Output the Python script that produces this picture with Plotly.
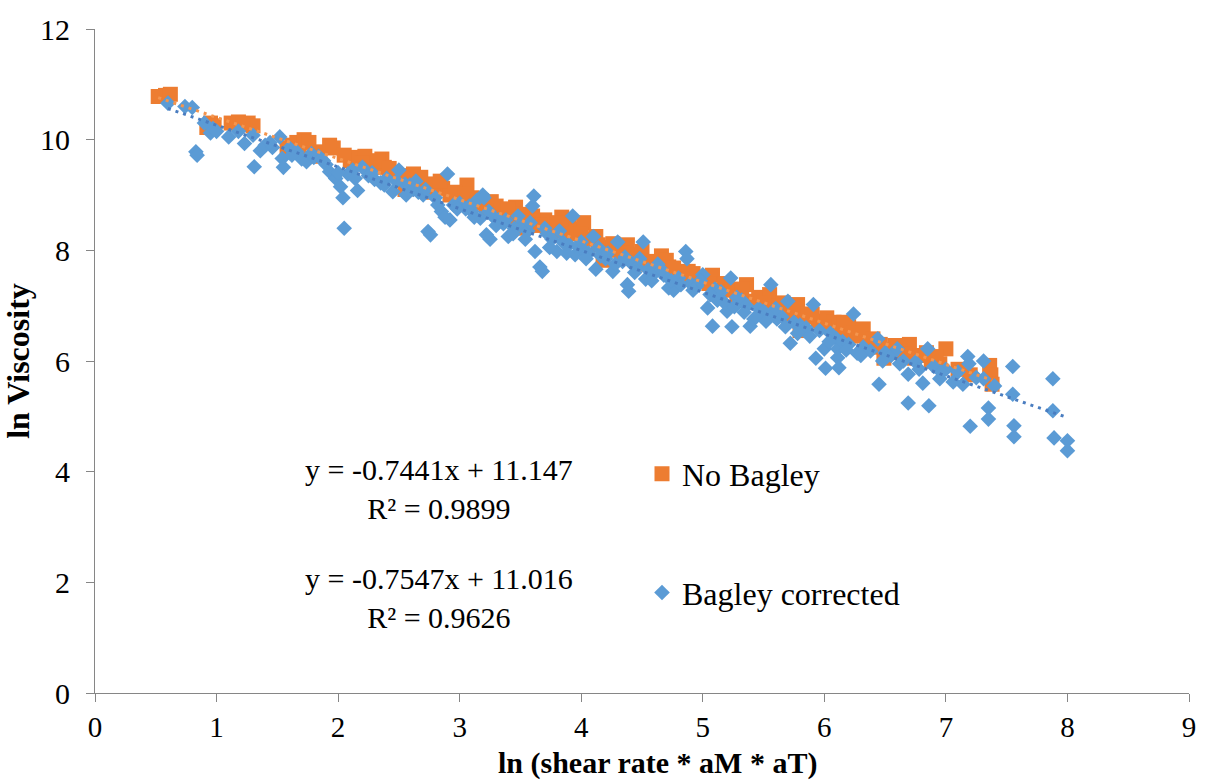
import plotly.graph_objects as go

# ---- Data: No Bagley (orange squares) ----
nobagley_x = [0.52, 0.58, 0.62, 0.92, 0.95, 1.12, 1.18, 1.26, 1.30, 1.62, 1.66, 1.68, 1.72, 1.82, 1.85,
              1.93, 1.96, 2.10, 2.16, 2.22, 2.26, 2.30, 2.36, 2.38, 2.45, 2.50, 2.55, 2.62, 2.66, 2.70,
              2.74, 2.80, 2.86, 2.92, 3.00, 3.06, 3.10, 3.18, 3.22, 3.30, 3.36, 3.42, 3.46, 3.50, 3.55,
              3.62, 3.70, 3.76, 3.84, 3.90, 3.96, 4.02, 4.08, 4.14, 4.18, 4.22, 4.30, 4.38, 4.42, 4.50,
              4.54, 4.60, 4.66, 4.72, 4.80, 4.88, 4.95, 5.02, 5.08, 5.14, 5.20, 5.28, 5.36, 5.40, 5.46,
              5.55, 5.62, 5.70, 5.78, 5.80, 5.86, 5.95, 6.02, 6.08, 6.12, 6.20, 6.28, 6.32, 6.36, 6.42,
              6.49, 6.55, 6.62, 6.70, 6.74, 6.80, 6.88, 6.95, 7.00, 7.10, 7.20, 7.36, 7.37, 7.38,
              0.98, 1.22, 1.58, 1.76, 2.05, 2.20, 2.33, 2.42, 2.58, 2.68, 2.78, 2.84, 2.96, 3.04, 3.14,
              3.26, 3.34, 3.40, 3.52, 3.60, 3.66, 3.80, 3.88, 4.00, 4.12, 4.26, 4.34, 4.46, 4.58, 4.70,
              4.76, 4.84, 4.92, 5.05, 5.18, 5.24, 5.32, 5.50, 5.66, 5.74, 5.90, 6.00, 6.16, 6.24, 6.40,
              6.46, 6.58, 6.66, 6.84, 6.92]
nobagley_y = [10.78, 10.80, 10.82, 10.22, 10.30, 10.30, 10.32, 10.30, 10.25, 9.90, 9.95, 9.78, 10.00, 9.78, 9.70,
              9.90, 9.85, 9.62, 9.68, 9.70, 9.45, 9.55, 9.65, 9.50, 9.40, 9.35, 9.10, 9.38, 9.25, 9.15,
              9.05, 9.20, 9.12, 9.00, 8.95, 9.18, 8.95, 8.90, 8.75, 8.80, 8.68, 8.60, 8.78, 8.40, 8.55,
              8.50, 8.55, 8.35, 8.60, 8.45, 8.38, 8.50, 8.20, 8.10, 7.82, 8.05, 8.00, 8.10, 7.92, 7.98,
              7.75, 7.80, 7.90, 7.70, 7.60, 7.62, 7.50, 7.45, 7.55, 7.28, 7.35, 7.20, 7.38, 7.08, 7.15,
              7.20, 7.00, 6.92, 7.02, 6.55, 6.80, 6.72, 6.78, 6.70, 6.55, 6.62, 6.45, 6.58, 6.35, 6.25,
              6.05, 6.20, 6.15, 6.30, 6.05, 6.10, 6.00, 5.95, 6.22, 5.85, 5.75, 5.92, 5.75, 5.58,
              10.25, 10.28, 9.85, 9.95, 9.72, 9.58, 9.62, 9.48, 9.28, 9.32, 9.10, 9.25, 9.05, 9.02, 8.85,
              8.88, 8.72, 8.75, 8.65, 8.62, 8.45, 8.50, 8.30, 8.30, 8.25, 8.12, 7.95, 7.85, 7.70, 7.82,
              7.68, 7.52, 7.58, 7.40, 7.40, 7.28, 7.30, 7.05, 7.05, 6.85, 6.85, 6.62, 6.70, 6.50, 6.40,
              6.30, 6.28, 6.12, 6.15, 6.08]

# ---- Data: Bagley corrected (blue diamonds) ----
bagley_x = [0.60, 0.74, 0.80, 0.83, 0.84, 0.95, 0.97, 1.00, 1.23, 1.30, 1.31, 1.36, 1.40, 1.46, 1.52,
            1.54, 1.55, 1.60, 1.66, 1.70, 1.74, 1.80, 1.84, 1.90, 1.93, 1.98, 2.02, 2.04, 2.05, 2.08,
            2.12, 2.16, 2.20, 2.25, 2.30, 2.35, 2.40, 2.45, 2.50, 2.55, 2.59, 2.62, 2.66, 2.70, 2.74,
            2.76, 2.80, 2.85, 2.88, 2.90, 2.92, 2.95, 3.00, 3.05, 3.10, 3.14, 3.17, 3.19, 3.20, 3.22,
            3.25, 3.28, 3.32, 3.36, 3.40, 3.45, 3.50, 3.56, 3.60, 3.61, 3.62, 3.66, 3.68, 3.72, 3.76,
            3.80, 3.85, 3.90, 3.93, 3.95, 3.98, 4.02, 4.06, 4.10, 4.12, 4.16, 4.20, 4.26, 4.30, 4.34,
            4.38, 4.39, 4.42, 4.46, 4.51, 4.53, 4.55, 4.60, 4.63, 4.68, 4.72, 4.76, 4.80, 4.86, 4.87,
            4.90, 4.95, 5.00, 5.04, 5.08, 5.10, 5.15, 5.20, 5.23, 5.24, 5.28, 5.32, 5.36, 5.39, 5.42,
            5.46, 5.50, 5.56, 5.58, 5.61, 5.65, 5.70, 5.72, 5.75, 5.80, 5.85, 5.91, 5.93, 5.96, 6.00,
            6.01, 6.05, 6.10, 6.11, 6.11, 6.12, 6.15, 6.20, 6.24, 6.27, 6.32, 6.38, 6.44, 6.45, 6.50,
            6.55, 6.60, 6.65, 6.69, 6.69, 6.75, 6.81, 6.85, 6.86, 6.90, 6.95, 7.00, 7.10, 7.14, 7.18,
            7.19, 7.20, 7.25, 7.31, 7.31, 7.35, 7.35, 7.40, 7.55, 7.55, 7.56, 7.56, 7.88, 7.88, 7.89,
            8.00, 8.00,
            0.90, 1.10, 1.18, 1.44, 1.62, 1.78, 1.88, 2.00, 2.14, 2.28, 2.38, 2.48, 2.56, 2.64, 2.72,
            2.82, 2.98, 3.08, 3.12, 3.24, 3.30, 3.38, 3.44, 3.48, 3.54, 3.58, 3.70, 3.74, 3.82, 3.88,
            4.00, 4.04, 4.14, 4.22, 4.28, 4.36, 4.44, 4.48, 4.58, 4.66, 4.74, 4.82, 4.92, 4.98, 5.06,
            5.12, 5.18, 5.26, 5.34, 5.44, 5.52, 5.60, 5.68, 5.78, 5.88, 6.04, 6.18, 6.30, 6.48, 6.62,
            6.78, 6.96, 7.06]
bagley_y = [10.66, 10.60, 10.58, 9.78, 9.72, 10.12, 10.20, 10.15, 9.93, 10.08, 9.51, 9.80, 9.90, 9.86, 10.05,
            9.66, 9.50, 9.85, 9.78, 9.65, 9.60, 9.68, 9.70, 9.55, 9.42, 9.30, 9.15, 8.95, 8.40, 9.38,
            9.45, 9.08, 9.50, 9.35, 9.28, 9.22, 9.30, 9.06, 9.45, 9.20, 9.18, 9.10, 9.05, 9.00, 8.34,
            8.28, 8.95, 8.70, 8.60, 9.38, 8.55, 8.82, 8.85, 8.75, 8.70, 8.90, 8.58, 9.00, 8.95, 8.28,
            8.20, 8.60, 8.55, 8.48, 8.25, 8.40, 8.45, 8.35, 8.80, 8.98, 7.98, 7.70, 7.62, 8.30, 8.20,
            7.98, 8.15, 8.10, 8.62, 7.92, 8.05, 8.00, 7.95, 8.25, 7.66, 7.90, 7.85, 7.62, 8.15, 7.80,
            7.38, 7.26, 7.75, 7.70, 8.15, 7.48, 7.65, 7.58, 7.75, 7.55, 7.32, 7.28, 7.50, 7.98, 7.85,
            7.40, 7.35, 7.56, 6.96, 6.63, 7.30, 7.25, 6.90, 7.50, 6.62, 7.15, 7.10, 7.00, 6.63, 6.76,
            6.95, 6.90, 7.38, 6.85, 6.76, 6.80, 7.08, 6.32, 6.70, 6.65, 6.60, 7.02, 6.05, 6.55, 6.22,
            5.87, 6.50, 6.40, 6.22, 6.06, 5.88, 6.35, 6.30, 6.85, 6.14, 6.25, 6.18, 6.40, 5.58, 6.15,
            6.10, 6.22, 6.00, 5.76, 5.24, 5.98, 5.60, 6.22, 5.19, 5.90, 5.68, 5.85, 5.80, 5.58, 6.08,
            5.95, 4.82, 5.70, 6.00, 5.68, 5.15, 4.95, 5.55, 5.90, 5.40, 4.83, 4.63, 5.68, 5.10, 4.61,
            4.56, 4.38,
            10.30, 10.05, 10.15, 9.95, 9.72, 9.75, 9.62, 9.40, 9.30, 9.40, 9.18, 9.25, 9.00, 9.25, 9.10,
            8.82, 8.75, 8.80, 8.60, 8.70, 8.45, 8.55, 8.30, 8.62, 8.20, 8.50, 8.40, 8.05, 8.35, 7.95,
            8.15, 7.85, 8.05, 7.95, 7.75, 7.88, 7.60, 7.85, 7.45, 7.65, 7.45, 7.38, 7.28, 7.45, 7.20,
            7.10, 7.05, 6.98, 6.88, 6.80, 6.72, 6.95, 6.62, 6.50, 6.45, 6.35, 6.20, 6.10, 6.00, 5.95,
            5.85, 5.80, 5.62]

# Linear trendline coefficients (as labelled on the chart)
nobagley_slope, nobagley_intercept = -0.7441, 11.147
bagley_slope, bagley_intercept = -0.7547, 11.016
nobagley_eq = ["y = -0.7441x + 11.147", "R² = 0.9899"]
bagley_eq = ["y = -0.7547x + 11.016", "R² = 0.9626"]
x_title = "ln (shear rate * aM * aT)"
y_title = "ln Viscosity"

ORANGE = "#ED7D31"
BLUE = "#5B9BD5"
FONT = "Liberation Serif"

fig = go.Figure()
fig.add_trace(go.Scatter(x=nobagley_x, y=nobagley_y, mode="markers", name="No Bagley",
                         marker=dict(symbol="square", size=15, color=ORANGE), legend="legend"))
fig.add_trace(go.Scatter(x=bagley_x, y=bagley_y, mode="markers", name="Bagley corrected",
                         marker=dict(symbol="diamond", size=12, color=BLUE), legend="legend2"))

tx1 = [min(nobagley_x), max(nobagley_x)]
fig.add_trace(go.Scatter(x=tx1, y=[nobagley_slope * v + nobagley_intercept for v in tx1], mode="lines",
                         line=dict(color="#F4954E", width=3, dash="3px,5px"), showlegend=False,
                         hoverinfo="skip"))
tx2 = [min(bagley_x), max(bagley_x)]
fig.add_trace(go.Scatter(x=tx2, y=[bagley_slope * v + bagley_intercept for v in tx2], mode="lines",
                         line=dict(color="#4A7DC0", width=3, dash="3px,5px"), showlegend=False,
                         hoverinfo="skip"))

ann_font = dict(family=FONT, size=30, color="black")
annotations = [
    dict(x=2.83, y=3.68, text="<br>".join(nobagley_eq)),
    dict(x=2.83, y=1.72, text="<br>".join(bagley_eq)),
]
for a in annotations:
    a.update(xref="x", yref="y", showarrow=False, font=ann_font, xanchor="center", yanchor="middle",
             align="center")
annotations.append(dict(x=0.514, y=-0.1051, xref="paper", yref="paper", showarrow=False,
                        xanchor="center", yanchor="middle", text="<b>" + x_title + "</b>",
                        font=dict(family=FONT, size=30, color="black")))

fig.update_layout(
    width=1209, height=782,
    margin=dict(l=95, r=20, t=27, b=89),
    paper_bgcolor="white", plot_bgcolor="white",
    font=dict(family=FONT, size=30, color="black"),
    showlegend=True,
    legend=dict(x=0.5, y=0.33, xanchor="left", yanchor="middle", bgcolor="rgba(0,0,0,0)",
                font=dict(family=FONT, size=32, color="black")),
    legend2=dict(x=0.5, y=0.151, xanchor="left", yanchor="middle", bgcolor="rgba(0,0,0,0)",
                 font=dict(family=FONT, size=32, color="black")),
    annotations=annotations,
)
fig.update_xaxes(range=[0, 9], dtick=1, tick0=0, showgrid=False, zeroline=False,
                 showline=True, linecolor="#868686", linewidth=1,
                 ticks="outside", ticklen=8, tickcolor="#868686", ticklabelstandoff=0,
                 tickfont=dict(family=FONT, size=29, color="black"))
fig.update_yaxes(range=[0, 12], dtick=2, tick0=0, showgrid=False, zeroline=False,
                 showline=True, linecolor="#868686", linewidth=1,
                 ticks="outside", ticklen=8, tickcolor="#868686", ticklabelstandoff=10,
                 tickfont=dict(family=FONT, size=30, color="black"),
                 title=dict(text="<b>" + y_title + "</b>", standoff=4,
                            font=dict(family=FONT, size=32, color="black")))

fig.write_html("out.html")
